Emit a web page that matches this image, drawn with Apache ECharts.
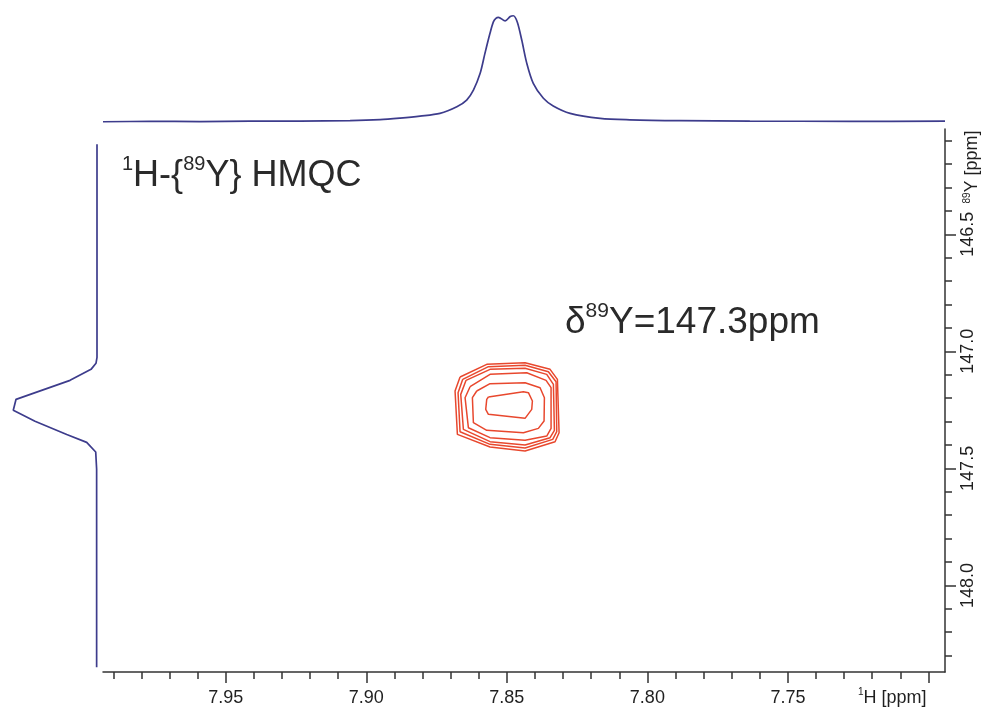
<!DOCTYPE html>
<html><head><meta charset="utf-8">
<script src="https://cdn.jsdelivr.net/npm/echarts@6/dist/echarts.min.js"></script>
<style>html,body{margin:0;padding:0;background:#fff}#c{width:984px;height:713px}</style>
</head><body><div id="c"></div>
<script>
// ---- axis ranges (ppm) ----
const xRange = [7.6941, 7.9937];        // 1H ppm (drawn right-to-left)
const yRange = [146.05, 148.37];        // 89Y ppm (drawn top-to-bottom)

// ---- tick lists ----
const xMinorTicks = [7.99,7.98,7.97,7.96,7.95,7.94,7.93,7.92,7.91,7.90,7.89,7.88,7.87,7.86,7.85,7.84,7.83,7.82,7.81,7.80,7.79,7.78,7.77,7.76,7.75,7.74,7.73,7.72,7.71,7.70];
const xMajorTicks = [7.95,7.90,7.85,7.80,7.75,7.70];
const xTickLabels = [7.95,7.90,7.85,7.80,7.75];
const yMinorTicks = [146.1,146.2,146.3,146.4,146.5,146.6,146.7,146.8,146.9,147.0,147.1,147.2,147.3,147.4,147.5,147.6,147.7,147.8,147.9,148.0,148.1,148.2,148.3];
const yMajorTicks = [146.5,147.0,147.5,148.0];
const yTickLabels = [146.5,147.0,147.5,148.0];

// ---- 1H projection (top): [ppm, relative intensity] ----
const topSpectrum = [
  [7.9937,0.000],[7.9770,0.003],[7.9592,0.002],[7.9414,0.005],[7.9236,0.006],
  [7.9058,0.011],[7.8951,0.020],[7.8880,0.034],[7.8809,0.052],[7.8738,0.077],
  [7.8678,0.138],[7.8643,0.200],[7.8619,0.292],[7.8595,0.446],[7.8578,0.630],
  [7.8560,0.815],[7.8548,0.920],[7.8539,0.953],[7.8530,0.962],[7.8506,0.930],
  [7.8488,0.970],[7.8477,0.977],[7.8463,0.920],[7.8447,0.753],[7.8429,0.538],
  [7.8406,0.354],[7.8370,0.216],[7.8335,0.145],[7.8275,0.077],[7.8168,0.031],
  [7.8062,0.018],[7.7884,0.010],[7.7635,0.006],[7.7279,0.004],[7.6941,0.005]
];

// ---- 89Y projection (left): [relative intensity, ppm] ----
const leftSpectrum = [
  [0.000,146.115],[0.000,147.026],[0.011,147.051],[0.065,147.077],[0.293,147.124],
  [0.880,147.205],[0.910,147.252],[0.674,147.299],[0.329,147.355],[0.112,147.389],
  [0.014,147.430],[0.004,147.504],[0.004,148.350]
];

// ---- HMQC cross-peak contours: [1H ppm, 89Y ppm] ----
const contour1 = [[7.86665,147.1097],[7.85716,147.0555],[7.84352,147.0484],[7.83462,147.0769],[7.83201,147.1197],[7.83142,147.3476],[7.83285,147.3860],[7.84352,147.4259],[7.85598,147.4088],[7.86760,147.3547],[7.86843,147.1695],[7.86665,147.1097]];
const contour2 = [[7.86570,147.1197],[7.85657,147.0655],[7.84352,147.0598],[7.83522,147.0869],[7.83249,147.1296],[7.83225,147.3433],[7.83367,147.3761],[7.84352,147.4131],[7.85598,147.3974],[7.86665,147.3433],[7.86736,147.1766],[7.86570,147.1197]];
const contour3 = [[7.86452,147.1239],[7.85598,147.0769],[7.84352,147.0726],[7.83581,147.0983],[7.83344,147.1410],[7.83308,147.3376],[7.83462,147.3689],[7.84352,147.4003],[7.85598,147.3860],[7.86547,147.3334],[7.86641,147.1838],[7.86452,147.1239]];
const contour4 = [[7.86309,147.1510],[7.85598,147.0983],[7.84293,147.0912],[7.83605,147.1239],[7.83427,147.1553],[7.83427,147.3291],[7.83581,147.3618],[7.84352,147.3803],[7.85598,147.3689],[7.86369,147.3262],[7.86487,147.1980],[7.86309,147.1510]];
const contour5 = [[7.86072,147.1695],[7.85598,147.1382],[7.84352,147.1339],[7.83818,147.1553],[7.83664,147.1980],[7.83676,147.2977],[7.83878,147.3291],[7.84411,147.3476],[7.85716,147.3376],[7.86191,147.3049],[7.86226,147.1980],[7.86072,147.1695]];
const contour6 = [[7.85657,147.1951],[7.84411,147.1724],[7.84233,147.1766],[7.84091,147.2122],[7.84115,147.2479],[7.84352,147.2863],[7.85657,147.2692],[7.85752,147.2479],[7.85716,147.2051],[7.85657,147.1951]];
const contours = [contour1, contour2, contour3, contour4, contour5, contour6];

const FONT = "'Liberation Sans', Arial, Helvetica, sans-serif";
const AXIS_COLOR = '#333333';
const SPEC_COLOR = '#3d3c8c';
const CONTOUR_COLOR = '#e8482e';
const TEXT_COLOR = '#2a2a2a';
const TICK_TEXT = '#1f1f1f';

const chart = echarts.init(document.getElementById('c'), null, {renderer: 'canvas'});

const mainX = {
  type: 'value', gridIndex: 0, min: xRange[0], max: xRange[1], inverse: true, position: 'bottom',
  splitLine: {show: false}
};
const mainY = {
  type: 'value', gridIndex: 0, min: yRange[0], max: yRange[1], inverse: true, position: 'right',
  splitLine: {show: false}
};

const option = {
  animation: false,
  backgroundColor: '#ffffff',
  grid: [
    {left: 103, top: 129, width: 842, height: 543},
    {left: 103, top: 10, width: 842, height: 115},
    {left: 5, top: 129, width: 92, height: 543}
  ],
  xAxis: [
    Object.assign({}, mainX, {
      axisLine: {show: true, lineStyle: {color: AXIS_COLOR, width: 1.5}},
      axisTick: {show: true, length: 7, customValues: xMinorTicks, lineStyle: {color: AXIS_COLOR, width: 1.5}},
      axisLabel: {show: false}
    }),
    Object.assign({}, mainX, {
      axisLine: {show: false},
      axisTick: {show: true, length: 11, customValues: xMajorTicks, lineStyle: {color: AXIS_COLOR, width: 1.5}},
      axisLabel: {show: true, customValues: xTickLabels, margin: 17, color: TICK_TEXT, fontSize: 18, fontFamily: FONT,
        formatter: v => Number(v).toFixed(2)}
    }),
    {type: 'value', gridIndex: 1, min: xRange[0], max: xRange[1], inverse: true, show: false},
    {type: 'value', gridIndex: 2, min: 0, max: 1, inverse: true, show: false}
  ],
  yAxis: [
    Object.assign({}, mainY, {
      axisLine: {show: true, lineStyle: {color: AXIS_COLOR, width: 1.5}},
      axisTick: {show: true, length: 7, customValues: yMinorTicks, lineStyle: {color: AXIS_COLOR, width: 1.5}},
      axisLabel: {show: false}
    }),
    Object.assign({}, mainY, {
      axisLine: {show: false},
      axisTick: {show: true, length: 11, customValues: yMajorTicks, lineStyle: {color: AXIS_COLOR, width: 1.5}},
      axisLabel: {show: true, customValues: yTickLabels, rotate: 90, margin: 14, color: TICK_TEXT, fontSize: 18, fontFamily: FONT,
        formatter: v => Number(v).toFixed(1)}
    }),
    {type: 'value', gridIndex: 1, min: -0.03, max: 1.03, show: false},
    {type: 'value', gridIndex: 2, min: yRange[0], max: yRange[1], inverse: true, show: false}
  ],
  series: [
    {type: 'line', xAxisIndex: 2, yAxisIndex: 2, data: topSpectrum, showSymbol: false, smooth: 0.3,
      lineStyle: {color: SPEC_COLOR, width: 1.7}, silent: true},
    {type: 'line', xAxisIndex: 3, yAxisIndex: 3, data: leftSpectrum, showSymbol: false,
      lineStyle: {color: SPEC_COLOR, width: 1.7}, silent: true}
  ].concat(contours.map(c => ({
    type: 'line', xAxisIndex: 0, yAxisIndex: 0, data: c, showSymbol: false,
    lineStyle: {color: CONTOUR_COLOR, width: 1.5}, silent: true
  }))),
  graphic: [
    {type: 'text', left: 122, top: 154, style: {
      text: '{sup|1}H-{{sup|89}Y} HMQC', font: '36px ' + FONT, fill: TEXT_COLOR, lineHeight: 44,
      rich: {sup: {fontSize: 20, fontFamily: FONT, verticalAlign: 'top', lineHeight: 20, fill: TEXT_COLOR}}
    }},
    {type: 'text', left: 565, top: 301, style: {
      text: 'δ{sup|89}Y=147.3ppm', font: '37px ' + FONT, fill: TEXT_COLOR, lineHeight: 44,
      rich: {sup: {fontSize: 21, fontFamily: FONT, verticalAlign: 'top', lineHeight: 21, fill: TEXT_COLOR}}
    }},
    {type: 'text', left: 858, top: 687, style: {
      text: '{sup|1}H [ppm]', font: '18px ' + FONT, fill: TICK_TEXT, lineHeight: 22,
      rich: {sup: {fontSize: 10, fontFamily: FONT, verticalAlign: 'top', lineHeight: 10, fill: TICK_TEXT}}
    }},
    {type: 'text', x: 972, y: 167, rotation: Math.PI / 2, style: {
      text: '{sup|89}Y [ppm]', font: '18px ' + FONT, fill: TICK_TEXT, lineHeight: 20,
      align: 'center', verticalAlign: 'middle',
      rich: {sup: {fontSize: 10, fontFamily: FONT, verticalAlign: 'top', lineHeight: 10, fill: TICK_TEXT}}
    }}
  ]
};
chart.setOption(option);
</script>
</body></html>
